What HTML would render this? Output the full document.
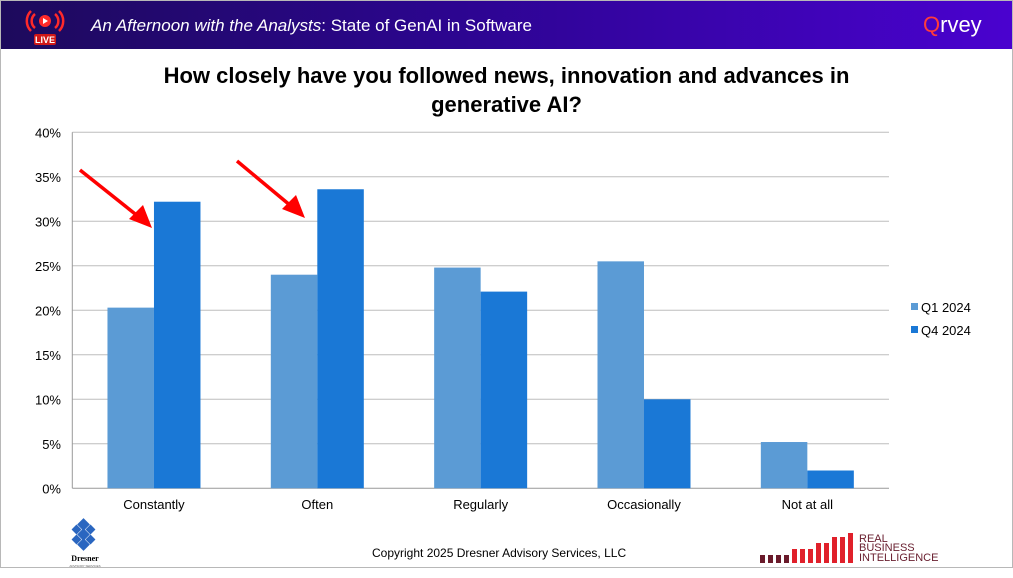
<!DOCTYPE html>
<html><head><meta charset="utf-8"><style>
html,body{margin:0;padding:0;width:1013px;height:568px;overflow:hidden;background:#fff;font-family:"Liberation Sans",sans-serif}
#frame{position:absolute;left:0;top:0;width:1011px;height:566px;border:1px solid #b8b8b8}
#hdr{position:absolute;left:1px;top:1px;width:1011px;height:48px;background:linear-gradient(90deg,#1d0a5c 0%,#2c0590 45%,#4a02cf 100%)}
</style></head><body>
<div id="frame"></div>
<div id="hdr">
  <svg width="60" height="48" style="position:absolute;left:20px;top:0">
    <path d="M10 10 A14 14 0 0 0 10 30" stroke="#ff2a2a" stroke-width="2.5" fill="none"/>
    <path d="M14 13 A9 9 0 0 0 14 27" stroke="#ff2a2a" stroke-width="2.5" fill="none"/>
    <path d="M38 10 A14 14 0 0 1 38 30" stroke="#ff2a2a" stroke-width="2.5" fill="none"/>
    <path d="M34 13 A9 9 0 0 1 34 27" stroke="#ff2a2a" stroke-width="2.5" fill="none"/>
    <circle cx="24" cy="20" r="6" fill="#ff2a2a"/><path d="M22 17 L27 20 L22 23Z" fill="#fff"/>
    <rect x="13" y="33" width="22" height="11" rx="2" fill="#d01818"/>
    <text x="24" y="42" font-size="9" font-weight="bold" fill="#fff" text-anchor="middle" font-family="Liberation Sans">LIVE</text>
  </svg>
  <div style="position:absolute;left:90px;top:15px;color:#fff;font-size:17px;white-space:nowrap"><i>An Afternoon with the Analysts</i>: State of GenAI in Software</div>
  <div style="position:absolute;left:922px;top:11px;color:#fff;font-size:22px;letter-spacing:0px"><span style="color:#ff3b3b">Q</span>rvey</div>
</div>
<div style="position:absolute;left:0;top:61px;width:1013px;text-align:center;font-weight:bold;font-size:22px;line-height:29px;color:#000">How closely have you followed news, innovation and advances in<br>generative AI?</div>
<svg id="chart" width="1013" height="568" style="position:absolute;left:0;top:0"></svg>
<div style="position:absolute;left:372px;top:546px;font-size:12px;color:#000">Copyright 2025 Dresner Advisory Services, LLC</div>
<svg width="60" height="60" style="position:absolute;left:65px;top:518px">
  <g fill="#2a66c0"><rect x="14" y="2" width="9" height="9" transform="rotate(45 18.5 6.5)"/><rect x="14" y="12" width="9" height="9" transform="rotate(45 18.5 16.5)"/><rect x="14" y="22" width="9" height="9" transform="rotate(45 18.5 26.5)"/><rect x="8" y="8" width="7" height="7" transform="rotate(45 11.5 11.5)"/><rect x="22" y="8" width="7" height="7" transform="rotate(45 25.5 11.5)"/><rect x="8" y="18" width="7" height="7" transform="rotate(45 11.5 21.5)"/><rect x="22" y="18" width="7" height="7" transform="rotate(45 25.5 21.5)"/></g>
  <text x="20" y="43" font-size="8" font-weight="bold" text-anchor="middle" font-family="Liberation Serif">Dresner</text>
  <text x="20" y="49" font-size="3" text-anchor="middle" fill="#666">ADVISORY SERVICES</text>
</svg>
<svg width="210" height="36" style="position:absolute;left:755px;top:530px">
  <g id="rbibars"></g>
  <text x="104" y="12" font-size="11" fill="#6a2030" font-family="Liberation Sans">REAL</text>
  <text x="104" y="21" font-size="11" fill="#6a2030" font-family="Liberation Sans">BUSINESS</text>
  <text x="104" y="31" font-size="11" fill="#6a2030" font-family="Liberation Sans">INTELLIGENCE</text>
</svg>
<script>
const categories=["Constantly","Often","Regularly","Occasionally","Not at all"];
const seriesNames=["Q1 2024","Q4 2024"];
const q1Values=[20.3,24.0,24.8,25.5,5.2];
const q4Values=[32.2,33.6,22.1,10.0,2.0];
const yTicks=[0,5,10,15,20,25,30,35,40];
const NS="http://www.w3.org/2000/svg";
const svg=document.getElementById('chart');
const L=72.3,R=889,T=132.3,B=488.3,YMAX=40;
const y=v=>B-(v/YMAX)*(B-T);
const band=(R-L)/categories.length;
const xc=i=>L+band*(i+0.5);
const bw=46.5;
function mk(t,a){const e=document.createElementNS(NS,t);for(const k in a)e.setAttribute(k,a[k]);svg.appendChild(e);return e;}
yTicks.forEach(t=>{
  const g=mk('line',{x1:L,x2:R,y1:y(t),y2:y(t),stroke:t===0?'#999':'#bdbdbd','stroke-width':1});
  
  
  const tx=mk('text',{x:61,y:y(t)+5,'font-size':13,'text-anchor':'end','font-family':'Liberation Sans',fill:'#000'});
  tx.textContent=t+'%';
  
  
});
const ax=mk('line',{x1:L,x2:L,y1:T,y2:B,stroke:'#999','stroke-width':1});


categories.forEach((c,i)=>{
  const b1=mk('rect',{x:xc(i)-bw,y:y(q1Values[i]),width:bw,height:B-y(q1Values[i]),fill:'#5b9bd5'});
  
  
  const b2=mk('rect',{x:xc(i),y:y(q4Values[i]),width:bw,height:B-y(q4Values[i]),fill:'#1a78d6'});
  
  
  const t=mk('text',{x:xc(i),y:509,'font-size':13,'text-anchor':'middle','font-family':'Liberation Sans',fill:'#000'});
  t.textContent=c;
  
  
});
// arrows
[[80,170,152,228],[237,161,305,218]].forEach(a=>{
  const l=mk('line',{x1:a[0],y1:a[1],x2:a[2]-8,y2:a[3]-7,stroke:'#f00','stroke-width':3.5});
  
  
  const p=mk('polygon',{points:`${a[2]},${a[3]} ${a[2]-23},${a[3]-9} ${a[2]-9},${a[3]-23}`,fill:'#f00'});
  
  
});
// legend
const cols=['#5b9bd5','#1a78d6'];
seriesNames.forEach((s,i)=>{
  const r=mk('rect',{x:911,y:303+i*23,width:7,height:7,fill:cols[i]});
  
  
  const t=mk('text',{x:921,y:312+i*23,'font-size':13,'font-family':'Liberation Sans',fill:'#000'});
  t.textContent=s;
  
  
});
// rbi logo bars
const rb=document.getElementById('rbibars');
const hs=[8,8,8,8,14,14,14,20,20,26,26,30];
hs.forEach((h,i)=>{const r=document.createElementNS(NS,'rect');r.setAttribute('x',5+i*8);r.setAttribute('y',33-h);r.setAttribute('width',5);r.setAttribute('height',h);r.setAttribute('fill',i<4?'#6a1a2a':'#e0202a');rb.appendChild(r);});
</script>
</body></html>
